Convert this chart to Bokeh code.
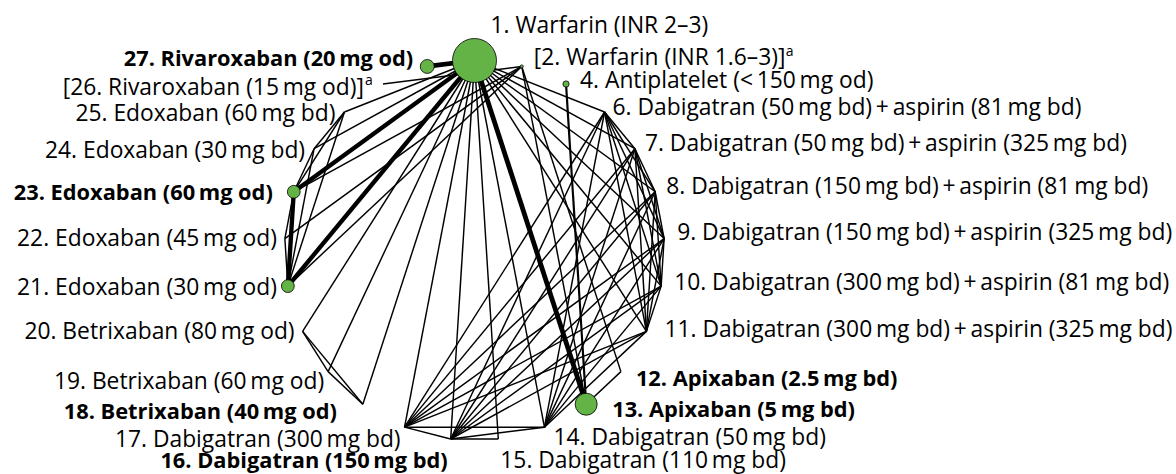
import math
from itertools import combinations
from bokeh.plotting import figure
from bokeh.models import Range1d, ColumnDataSource
from bokeh.core.properties import value
from bokeh.embed import file_html
from bokeh.resources import INLINE

# ---------------- data ----------------
node_ids = [1, 2, 4, 6, 7, 8, 9, 10, 11, 12, 13, 14, 15, 16, 17, 18, 19, 20, 21, 22, 23, 24, 25, 26, 27]
T = "\u2009"
node_names = [
    "Warfarin (INR 2–3)",
    "Warfarin (INR 1.6–3)",
    f"Antiplatelet (<{T}150{T}mg od)",
    f"Dabigatran (50{T}mg bd){T}+{T}aspirin (81{T}mg bd)",
    f"Dabigatran (50{T}mg bd){T}+{T}aspirin (325{T}mg bd)",
    f"Dabigatran (150{T}mg bd){T}+{T}aspirin (81{T}mg bd)",
    f"Dabigatran (150{T}mg bd){T}+{T}aspirin (325{T}mg bd)",
    f"Dabigatran (300{T}mg bd){T}+{T}aspirin (81{T}mg bd)",
    f"Dabigatran (300{T}mg bd){T}+{T}aspirin (325{T}mg bd)",
    f"Apixaban (2.5{T}mg bd)",
    f"Apixaban (5{T}mg bd)",
    f"Dabigatran (50{T}mg bd)",
    f"Dabigatran (110{T}mg bd)",
    f"Dabigatran (150{T}mg bd)",
    f"Dabigatran (300{T}mg bd)",
    f"Betrixaban (40{T}mg od)",
    f"Betrixaban (60{T}mg od)",
    f"Betrixaban (80{T}mg od)",
    f"Edoxaban (30{T}mg od)",
    f"Edoxaban (45{T}mg od)",
    f"Edoxaban (60{T}mg od)",
    f"Edoxaban (30{T}mg bd)",
    f"Edoxaban (60{T}mg bd)",
    f"Rivaroxaban (15{T}mg od)",
    f"Rivaroxaban (20{T}mg od)",
]
bracketed_nodes = [2, 26]
bold_nodes = [12, 13, 16, 18, 23, 27]
# relative node weight (only nodes drawn with a dot)
node_weight = {1: 100, 13: 25, 27: 10, 23: 8.5, 21: 8.5, 4: 2, 2: 0.5}

# multi-arm study designs (every pair of arms is a comparison), with study count weight
study_designs = [
    ([1, 6, 7, 8, 9, 10, 11, 14, 16, 17], 1),
    ([1, 15, 16], 1),
    ([1, 21, 23, 24, 25], 1),
    ([2, 21, 22, 23], 1),
    ([1, 18, 19, 20], 1),
    ([2, 12, 13], 1),
    ([2, 26], 1),
]
heavy_comparisons = [(1, 13, 3.3), (1, 27, 3.3), (1, 23, 3.0), (1, 21, 3.0), (21, 23, 3.0), (4, 13, 1.5)]

# ---------------- layout ----------------
CX, CY, R = 474, 250, 190
n = len(node_ids)
pos = {}
for i, nid in enumerate(node_ids):
    th = math.radians(90 - i * 360 / n)
    pos[nid] = (CX + R * math.cos(th), CY - R * math.sin(th))

label_off = {
    1: (16, -36, "left"), 2: (12, -10, "left"), 4: (14, -5, "left"), 6: (8, -5, "left"),
    7: (10, -6, "left"), 8: (11, -6, "left"), 9: (13, -7, "left"), 10: (13, -5, "left"),
    11: (18, -3, "left"), 12: (15, 6, "left"), 13: (26, 4, "left"), 14: (9, 9, "left"),
    15: (2, 20, "left"), 16: (-3, 20, "right"), 17: (-4, 11, "right"), 18: (-26, 6, "right"),
    19: (-4, 9, "right"), 20: (-8, -1, "right"), 21: (-11, 0, "right"), 22: (-8, -1, "right"),
    23: (-21, 0, "right"), 24: (-9, 1, "right"), 25: (-9, 1, "right"), 26: (-19, 2, "right"),
    27: (-14, -9, "right"),
}
sup_off = {2: (264, -16), 26: (-18, -5)}

# ---------------- edges ----------------
edge_w = {}
for arms, w in study_designs:
    for a, b in combinations(arms, 2):
        key = tuple(sorted((a, b)))
        edge_w[key] = max(edge_w.get(key, 0), w)
for a, b, w in heavy_comparisons:
    edge_w[tuple(sorted((a, b)))] = w

xs, ys, lw = [], [], []
for (a, b), w in sorted(edge_w.items(), key=lambda kv: kv[1]):
    xs.append([pos[a][0], pos[b][0]])
    ys.append([pos[a][1], pos[b][1]])
    lw.append(1.45 * w)

p = figure(width=1176, height=474, output_backend="svg", toolbar_location=None,
           x_range=Range1d(0, 1176), y_range=Range1d(474, 0), min_border=0)
p.axis.visible = False
p.grid.visible = False
p.outline_line_color = None
p.background_fill_color = "white"

p.multi_line(xs=xs, ys=ys, line_width=lw, line_color="black")

dx_, dy_, ds_ = [], [], []
for nid, w in node_weight.items():
    dx_.append(pos[nid][0]); dy_.append(pos[nid][1])
    ds_.append(2 * 22 * math.sqrt(w / 100))
p.scatter(x=dx_, y=dy_, size=ds_, fill_color="#63b347", line_color="black", line_width=0.8)

rows = {"normal": dict(x=[], y=[], text=[], align=[]), "bold": dict(x=[], y=[], text=[], align=[])}
for nid, name in zip(node_ids, node_names):
    txt = f"{nid}. {name}"
    if nid in bracketed_nodes:
        txt = f"[{txt}]"
    ox, oy, al = label_off[nid]
    r = rows["bold" if nid in bold_nodes else "normal"]
    r["x"].append(pos[nid][0] + ox); r["y"].append(pos[nid][1] + oy)
    r["text"].append(txt); r["align"].append(al)

p.text(x="x", y="y", text="text", source=ColumnDataSource(rows["normal"]), text_align="align",
       text_baseline="middle", text_font=value("Open Sans"), text_font_size="22.8px", text_color="black")
p.text(x="x", y="y", text="text", source=ColumnDataSource(rows["bold"]), text_align="align",
       text_baseline="middle", text_font=value("Open Sans"), text_font_size="21.8px",
       text_font_style="bold", text_color="black")

sx = [pos[nid][0] + sup_off[nid][0] for nid in bracketed_nodes]
sy = [pos[nid][1] + sup_off[nid][1] for nid in bracketed_nodes]
p.text(x=sx, y=sy, text=["a", "a"], text_align="left", text_baseline="middle",
       text_font=value("Open Sans"), text_font_size="14px", text_color="black")

open("out.html", "w").write(file_html(p, INLINE))
